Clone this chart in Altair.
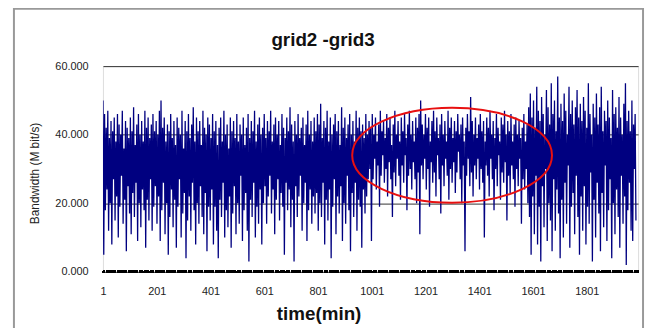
import altair as alt
import pandas as pd

# Bandwidth samples (Mbit/s), read every 3 minutes from the picture
chunk1 = [50, 5, 46, 18, 42, 24, 47, 12, 39, 20, 44, 8, 41, 27, 45, 15, 38, 22, 46, 10,
          43, 19, 40, 28, 47, 14, 36, 21, 44, 6, 42, 25, 39, 17, 45, 11, 41, 23, 48, 16,
          37, 26, 43, 9, 46, 20, 40, 13, 44, 24, 38, 18, 47, 7, 42, 21, 45, 15, 39, 27,
          43, 12, 46, 19, 41, 25]
chunk2 = [44, 14, 40, 22, 47, 9, 50, 18, 42, 26, 45, 11, 38, 20, 43, 5, 41, 16, 46, 24,
          39, 13, 44, 21, 37, 7, 45, 19, 42, 27, 40, 10, 47, 17, 36, 23, 44, 4, 41, 15,
          46, 22, 39, 12, 43, 26, 48, 18, 38, 8, 45, 20, 41, 14, 44, 25, 37, 16, 47, 11,
          42, 23, 40, 6, 45, 19]
chunk3 = [43, 15, 39, 24, 46, 8, 41, 19, 44, 12, 37, 4, 42, 21, 45, 16, 38, 26, 47, 10,
          40, 18, 43, 13, 36, 22, 45, 7, 41, 17, 44, 25, 39, 11, 46, 20, 38, 14, 43, 28,
          40, 9, 45, 18, 37, 23, 42, 12, 46, 3, 39, 21, 44, 16, 41, 26, 47, 10, 38, 19,
          43, 14, 45, 24, 40, 8]
chunk4 = [42, 20, 46, 25, 39, 14, 44, 22, 41, 28, 47, 17, 38, 24, 43, 11, 45, 21, 40, 27,
          44, 15, 37, 23, 46, 19, 42, 5, 39, 26, 45, 18, 41, 24, 48, 13, 43, 21, 38, 3,
          44, 25, 40, 16, 46, 22, 39, 28, 42, 12, 45, 20, 37, 26, 43, 9, 47, 18, 40, 24,
          44, 14, 38, 22, 45, 17]
chunk5 = [41, 23, 46, 12, 43, 20, 49, 16, 39, 26, 44, 8, 42, 21, 47, 15, 38, 24, 45, 4,
          40, 19, 43, 27, 46, 11, 41, 22, 44, 17, 37, 25, 48, 9, 42, 20, 45, 14, 39, 28,
          43, 18, 46, 6, 40, 23, 44, 16, 38, 26, 47, 12, 42, 21, 45, 19, 41, 7, 43, 24,
          39, 17, 46, 22, 40, 27]
chunk6 = [44, 30, 42, 9, 46, 27, 40, 33, 45, 24, 38, 31, 43, 19, 47, 28, 41, 34, 44, 26,
          39, 30, 46, 22, 42, 32, 45, 27, 37, 16, 43, 29, 47, 25, 40, 33, 44, 28, 38, 21,
          45, 31, 41, 26, 46, 34, 39, 18, 43, 28, 47, 30, 40, 24, 44, 32, 38, 27, 45, 20,
          42, 29, 46, 11, 50, 31]
chunk7 = [43, 27, 40, 33, 46, 24, 42, 30, 45, 19, 38, 32, 44, 26, 47, 29, 41, 22, 45, 34,
          39, 27, 43, 17, 46, 31, 40, 25, 44, 33, 38, 28, 47, 21, 42, 30, 45, 26, 39, 32,
          44, 23, 41, 29, 46, 35, 40, 27, 43, 20, 45, 31, 38, 6, 42, 28, 46, 33, 41, 25,
          51, 29, 44, 22, 40, 31]
chunk8 = [45, 27, 39, 33, 43, 24, 46, 30, 41, 26, 44, 10, 38, 31, 45, 28, 42, 22, 47, 33,
          40, 27, 44, 18, 39, 30, 46, 25, 42, 34, 38, 21, 45, 29, 43, 26, 47, 32, 40, 15,
          44, 28, 41, 23, 46, 31, 38, 27, 43, 19, 45, 30, 40, 25, 44, 33, 39, 14, 42, 27,
          46, 24, 38, 30, 43, 20]
chunk9 = [48, 16, 52, 5, 45, 22, 50, 11, 42, 28, 54, 8, 47, 19, 44, 3, 51, 25, 46, 13,
          40, 30, 53, 9, 48, 20, 43, 15, 55, 6, 46, 27, 50, 12, 41, 24, 57, 17, 45, 4,
          49, 21, 44, 10, 52, 26, 47, 14, 40, 31, 54, 7, 46, 19, 50, 23, 43, 11, 48, 28,
          53, 16, 45, 5, 49, 22]
chunk10 = [44, 12, 51, 25, 47, 8, 42, 19, 55, 14, 46, 29, 40, 3, 49, 21, 45, 10, 52, 26,
           43, 17, 48, 6, 54, 23, 41, 13, 47, 31, 44, 9, 50, 18, 45, 27, 39, 4, 53, 20,
           46, 11, 48, 24, 42, 16, 51, 7, 45, 28, 40, 14, 49, 22, 55, 2, 44, 18, 47, 26,
           41, 12, 50, 9, 43, 30, 46, 15]

bandwidth = chunk1 + chunk2 + chunk3 + chunk4 + chunk5 + chunk6 + chunk7 + chunk8 + chunk9 + chunk10
step_min = 3
times = [1 + step_min * i for i in range(len(bandwidth))]

x_ticks = [1, 201, 401, 601, 801, 1001, 1201, 1401, 1601, 1801]
y_ticks = [0, 10, 20, 30, 40, 50, 60]
chart_title = "grid2 -grid3"

# highlighted region (ellipse annotation): centre in data units
ellipse_center_time = [1300]
ellipse_center_bw = [34]

df = pd.DataFrame({"time": times, "bw": bandwidth})
ell = pd.DataFrame({"time": ellipse_center_time, "bw": ellipse_center_bw})

xscale = alt.Scale(domain=[1, 1992], nice=False, zero=False)
yscale = alt.Scale(domain=[0, 60], nice=False)

base_x = alt.X(
    "time:Q", scale=xscale,
    axis=alt.Axis(values=x_ticks, format="d", title="time(min)", grid=False, ticks=False, domain=False,
                  labelFontSize=11, labelColor="#222", labelPadding=14, labelFont="Liberation Sans",
                  titleFont="Liberation Sans", titleFontSize=19, titleFontWeight="bold",
                  titleColor="#111", titleX=218, titleY=42, titleBaseline="middle",
                  titleAlign="center", labelFlush=False),
)
base_y = alt.Y(
    "bw:Q", scale=yscale,
    axis=alt.Axis(values=y_ticks, format=".3f", title="Bandwidth (M bit/s)", grid=True,
                  gridColor="#333333", gridWidth=1, ticks=False, domain=False,
                  labelFontSize=11, labelColor="#222", labelPadding=15, labelFont="Liberation Sans",
                  titleFont="Liberation Sans", titleFontSize=12, titleFontWeight="normal",
                  titleColor="#222", titleX=-69, titleY=108, titleAngle=270,
                  titleBaseline="middle", titleAlign="center"),
)

line = alt.Chart(df).mark_line(color="#000080", strokeWidth=1.3, clip=True).encode(x=base_x, y=base_y)

zero = alt.Chart(df).mark_rule(color="black", strokeWidth=2.5, strokeDash=[4, 1.5]).encode(
    y=alt.datum(0, scale=yscale)
)

ellipse_shape = ("M -1 0 C -1 -0.262 -0.552 -0.475 0 -0.475 C 0.552 -0.475 1 -0.262 1 0 "
                 "C 1 0.262 0.552 0.475 0 0.475 C -0.552 0.475 -1 0.262 -1 0 Z")
ellipse = alt.Chart(ell).mark_point(
    shape=ellipse_shape, size=202 * 202, filled=False, color="#e81010", strokeWidth=2, opacity=1
).encode(x=alt.X("time:Q", scale=xscale), y=alt.Y("bw:Q", scale=yscale))

frame = alt.Chart(ell).mark_rect(filled=False, stroke="#999999", strokeWidth=2).encode(
    x=alt.value(-90), x2=alt.value(546), y=alt.value(-58), y2=alt.value(275)
)

title = alt.Chart(ell).mark_text(
    text=chart_title, font="Liberation Sans", fontSize=19, fontWeight="bold", color="#111",
    align="center", baseline="alphabetic"
).encode(x=alt.value(222.5), y=alt.value(-20))

chart = alt.layer(frame, line, zero, ellipse, title).properties(
    width=541, height=208,
    autosize=alt.AutoSizeParams(type="none"),
    padding={"left": 96, "top": 57, "right": 8, "bottom": 55},
).configure_view(stroke="#808080", strokeWidth=1).configure(background="white")

chart.save("out.html", embed_options={"renderer": "svg", "actions": False})
